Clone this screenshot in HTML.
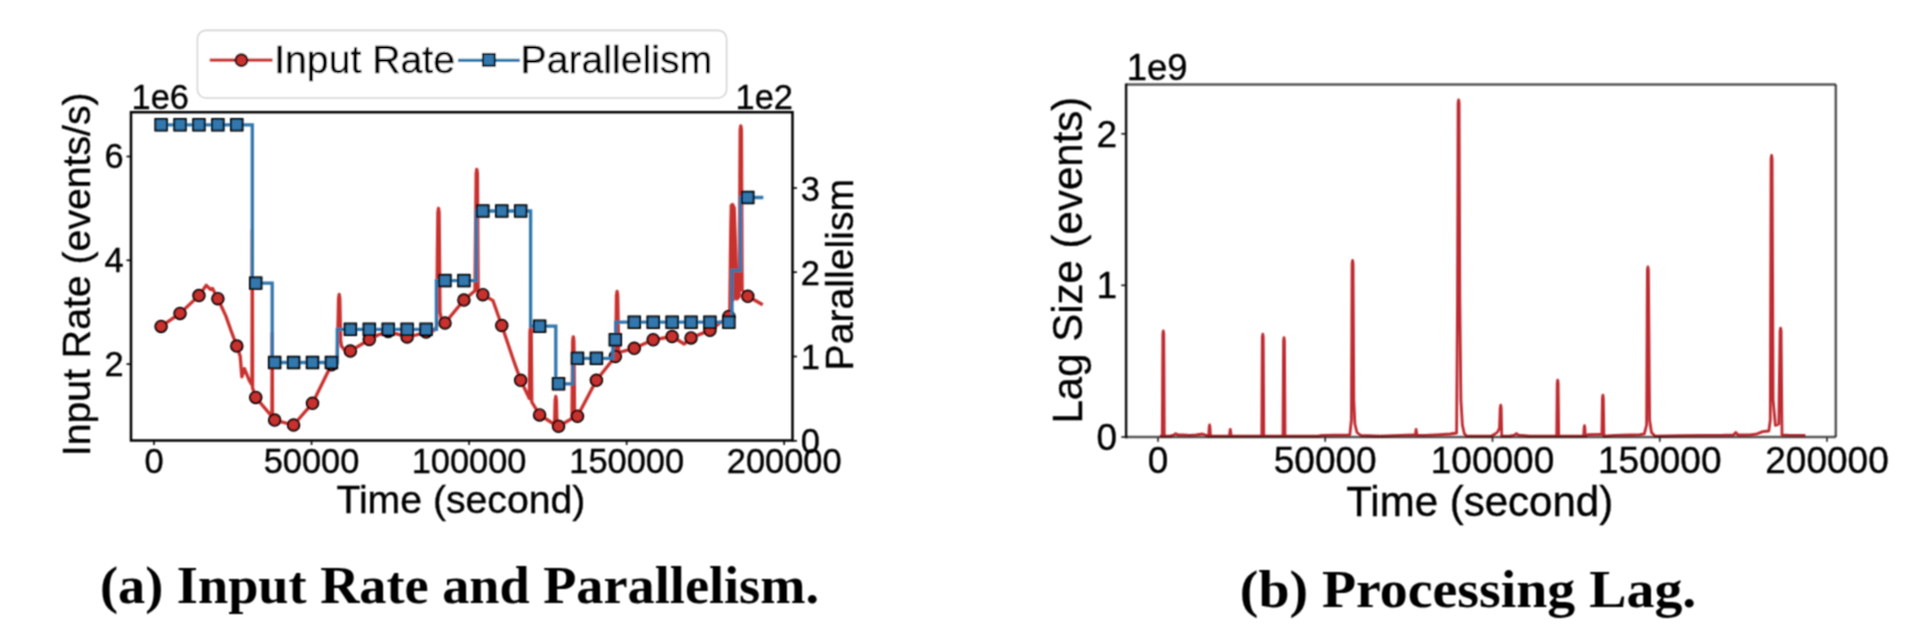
<!DOCTYPE html>
<html><head><meta charset="utf-8"><title>Input Rate, Parallelism and Processing Lag</title>
<style>
html,body{margin:0;padding:0;background:#fff;}
body{width:1916px;height:632px;overflow:hidden;}
svg{display:block;will-change:transform;}
text{font-family:"Liberation Sans",Arial,Helvetica,sans-serif;fill:#000;stroke:#000;stroke-width:0.35px;}
.tl{font-size:34.4px;}
.tr{font-size:37px;}
.lb{font-size:39.2px;}
.lr{font-size:42px;}
.cap{font-family:"Liberation Serif","Times New Roman",serif;font-weight:bold;font-size:53.5px;stroke:none;}
</style></head><body>
<svg width="1916" height="632" viewBox="0 0 1916 632">
<defs><filter id="sb" x="0" y="0" width="1916" height="632" filterUnits="userSpaceOnUse"><feConvolveMatrix order="3" kernelMatrix="1 2 1 2 4 2 1 2 1" divisor="16" edgeMode="duplicate"/></filter></defs>
<rect width="1916" height="632" fill="#fff"/>
<g filter="url(#sb)">
<polyline points="161.1,326.4 180.03,313.4 198.95,295.6 206.3,285.3 210.4,289.4 212.5,288.4 217.88,298.7 225.9,316.1 231,330.5 236.8,346.1 240.2,356.2 241.9,376.8 244.4,368.6 249.5,380.9 252,385 252.3,230 252.6,388 255.73,397.4 271.9,416.5 272.2,333.5 272.5,418 274.66,420.1 293.58,425 312.51,403.3 331.43,364.8 337.3,357 338.6,298.5 339.2,294.5 339.8,298.5 340.6,340 341.5,346 344.5,350 350.36,351 369.29,339.6 378,335 388.21,331.5 395.8,333.7 407.14,337 416,335 426.06,332 433.7,330.6 436.6,327 437.9,212.5 438.5,208.5 439.1,212.5 440,312 441.5,320 444.99,323 463.92,300.1 475,290.7 476.2,173.3 476.8,169.3 477.4,173.3 478.1,291 482.84,294.7 493,300.7 501.77,325.5 513.6,360.5 520.69,380.3 529.4,398.5 530,331.5 530.6,327.5 531.2,331.5 531.8,402 539.62,414.9 554.6,424.5 555.2,400.5 555.8,396.5 556.4,400.5 557,425.6 558.55,426.2 572,418.5 572.7,340.8 573.3,336.8 573.9,340.8 574.6,418 577.47,416.2 596.4,380.3 615.32,356.5 615.7,354 616.5,295.4 617.1,291.4 617.7,295.4 618.6,352.5 634.25,348.3 653.18,339.8 672.1,336.5 684.2,344 691.03,337.9 709.95,330.2 728.88,316.5 729.8,312 730.8,230 731.3,205.5 732.5,204.4 734.2,208 735.3,240 736.8,299 739.2,296.5 740.2,129.8 740.8,125.8 741.4,129.8 742.1,290 747.81,296.3 762.7,304.8" fill="none" stroke="#c8302f" stroke-width="3.3" stroke-linejoin="round" stroke-linecap="butt"/>
<polygon points="730.2,305 730.9,205 733.6,206 735.6,250 737.0,298" fill="#c8302f"/>
<circle cx="161.1" cy="326.4" r="5.8" fill="#c8302f" stroke="#000" stroke-width="1.9"/>
<circle cx="180.03" cy="313.4" r="5.8" fill="#c8302f" stroke="#000" stroke-width="1.9"/>
<circle cx="198.95" cy="295.6" r="5.8" fill="#c8302f" stroke="#000" stroke-width="1.9"/>
<circle cx="217.88" cy="298.7" r="5.8" fill="#c8302f" stroke="#000" stroke-width="1.9"/>
<circle cx="236.8" cy="346.1" r="5.8" fill="#c8302f" stroke="#000" stroke-width="1.9"/>
<circle cx="255.73" cy="397.4" r="5.8" fill="#c8302f" stroke="#000" stroke-width="1.9"/>
<circle cx="274.66" cy="420.1" r="5.8" fill="#c8302f" stroke="#000" stroke-width="1.9"/>
<circle cx="293.58" cy="425" r="5.8" fill="#c8302f" stroke="#000" stroke-width="1.9"/>
<circle cx="312.51" cy="403.3" r="5.8" fill="#c8302f" stroke="#000" stroke-width="1.9"/>
<circle cx="331.43" cy="364.8" r="5.8" fill="#c8302f" stroke="#000" stroke-width="1.9"/>
<circle cx="350.36" cy="351" r="5.8" fill="#c8302f" stroke="#000" stroke-width="1.9"/>
<circle cx="369.29" cy="339.6" r="5.8" fill="#c8302f" stroke="#000" stroke-width="1.9"/>
<circle cx="388.21" cy="331.5" r="5.8" fill="#c8302f" stroke="#000" stroke-width="1.9"/>
<circle cx="407.14" cy="337" r="5.8" fill="#c8302f" stroke="#000" stroke-width="1.9"/>
<circle cx="426.06" cy="332" r="5.8" fill="#c8302f" stroke="#000" stroke-width="1.9"/>
<circle cx="444.99" cy="323" r="5.8" fill="#c8302f" stroke="#000" stroke-width="1.9"/>
<circle cx="463.92" cy="300.1" r="5.8" fill="#c8302f" stroke="#000" stroke-width="1.9"/>
<circle cx="482.84" cy="294.7" r="5.8" fill="#c8302f" stroke="#000" stroke-width="1.9"/>
<circle cx="501.77" cy="325.5" r="5.8" fill="#c8302f" stroke="#000" stroke-width="1.9"/>
<circle cx="520.69" cy="380.3" r="5.8" fill="#c8302f" stroke="#000" stroke-width="1.9"/>
<circle cx="539.62" cy="414.9" r="5.8" fill="#c8302f" stroke="#000" stroke-width="1.9"/>
<circle cx="558.55" cy="426.2" r="5.8" fill="#c8302f" stroke="#000" stroke-width="1.9"/>
<circle cx="577.47" cy="416.2" r="5.8" fill="#c8302f" stroke="#000" stroke-width="1.9"/>
<circle cx="596.4" cy="380.3" r="5.8" fill="#c8302f" stroke="#000" stroke-width="1.9"/>
<circle cx="615.32" cy="356.5" r="5.8" fill="#c8302f" stroke="#000" stroke-width="1.9"/>
<circle cx="634.25" cy="348.3" r="5.8" fill="#c8302f" stroke="#000" stroke-width="1.9"/>
<circle cx="653.18" cy="339.8" r="5.8" fill="#c8302f" stroke="#000" stroke-width="1.9"/>
<circle cx="672.1" cy="336.5" r="5.8" fill="#c8302f" stroke="#000" stroke-width="1.9"/>
<circle cx="691.03" cy="337.9" r="5.8" fill="#c8302f" stroke="#000" stroke-width="1.9"/>
<circle cx="709.95" cy="330.2" r="5.8" fill="#c8302f" stroke="#000" stroke-width="1.9"/>
<circle cx="728.88" cy="316.5" r="5.8" fill="#c8302f" stroke="#000" stroke-width="1.9"/>
<circle cx="747.81" cy="296.3" r="5.8" fill="#c8302f" stroke="#000" stroke-width="1.9"/>
<polyline points="161.1,124.8 252.3,124.8 252.3,283.1 272.2,283.1 272.2,362.5 337.3,362.5 337.3,329.3 436.4,329.3 436.4,280.6 476.3,280.6 476.3,211 530.6,211 530.6,326.2 555.8,326.2 555.8,383.8 572.9,383.8 572.9,358.3 612.9,358.3 612.9,339.8 615.8,339.8 615.8,322.2 732,322.2 732,270.5 740.5,270.5 740.5,197.5 763.3,197.5" fill="none" stroke="#3077ad" stroke-width="3.3" stroke-linejoin="miter" stroke-linecap="butt"/>
<rect x="155.3" y="119" width="11.6" height="11.6" fill="#3077ad" stroke="#000" stroke-width="1.9"/>
<rect x="174.23" y="119" width="11.6" height="11.6" fill="#3077ad" stroke="#000" stroke-width="1.9"/>
<rect x="193.15" y="119" width="11.6" height="11.6" fill="#3077ad" stroke="#000" stroke-width="1.9"/>
<rect x="212.08" y="119" width="11.6" height="11.6" fill="#3077ad" stroke="#000" stroke-width="1.9"/>
<rect x="231" y="119" width="11.6" height="11.6" fill="#3077ad" stroke="#000" stroke-width="1.9"/>
<rect x="249.93" y="277.3" width="11.6" height="11.6" fill="#3077ad" stroke="#000" stroke-width="1.9"/>
<rect x="268.86" y="356.7" width="11.6" height="11.6" fill="#3077ad" stroke="#000" stroke-width="1.9"/>
<rect x="287.78" y="356.7" width="11.6" height="11.6" fill="#3077ad" stroke="#000" stroke-width="1.9"/>
<rect x="306.71" y="356.7" width="11.6" height="11.6" fill="#3077ad" stroke="#000" stroke-width="1.9"/>
<rect x="325.63" y="356.7" width="11.6" height="11.6" fill="#3077ad" stroke="#000" stroke-width="1.9"/>
<rect x="344.56" y="323.5" width="11.6" height="11.6" fill="#3077ad" stroke="#000" stroke-width="1.9"/>
<rect x="363.49" y="323.5" width="11.6" height="11.6" fill="#3077ad" stroke="#000" stroke-width="1.9"/>
<rect x="382.41" y="323.5" width="11.6" height="11.6" fill="#3077ad" stroke="#000" stroke-width="1.9"/>
<rect x="401.34" y="323.5" width="11.6" height="11.6" fill="#3077ad" stroke="#000" stroke-width="1.9"/>
<rect x="420.26" y="323.5" width="11.6" height="11.6" fill="#3077ad" stroke="#000" stroke-width="1.9"/>
<rect x="439.19" y="274.8" width="11.6" height="11.6" fill="#3077ad" stroke="#000" stroke-width="1.9"/>
<rect x="458.12" y="274.8" width="11.6" height="11.6" fill="#3077ad" stroke="#000" stroke-width="1.9"/>
<rect x="477.04" y="205.2" width="11.6" height="11.6" fill="#3077ad" stroke="#000" stroke-width="1.9"/>
<rect x="495.97" y="205.2" width="11.6" height="11.6" fill="#3077ad" stroke="#000" stroke-width="1.9"/>
<rect x="514.89" y="205.2" width="11.6" height="11.6" fill="#3077ad" stroke="#000" stroke-width="1.9"/>
<rect x="533.82" y="320.4" width="11.6" height="11.6" fill="#3077ad" stroke="#000" stroke-width="1.9"/>
<rect x="552.75" y="378" width="11.6" height="11.6" fill="#3077ad" stroke="#000" stroke-width="1.9"/>
<rect x="571.67" y="352.5" width="11.6" height="11.6" fill="#3077ad" stroke="#000" stroke-width="1.9"/>
<rect x="590.6" y="352.5" width="11.6" height="11.6" fill="#3077ad" stroke="#000" stroke-width="1.9"/>
<rect x="609.52" y="334" width="11.6" height="11.6" fill="#3077ad" stroke="#000" stroke-width="1.9"/>
<rect x="628.45" y="316.4" width="11.6" height="11.6" fill="#3077ad" stroke="#000" stroke-width="1.9"/>
<rect x="647.38" y="316.4" width="11.6" height="11.6" fill="#3077ad" stroke="#000" stroke-width="1.9"/>
<rect x="666.3" y="316.4" width="11.6" height="11.6" fill="#3077ad" stroke="#000" stroke-width="1.9"/>
<rect x="685.23" y="316.4" width="11.6" height="11.6" fill="#3077ad" stroke="#000" stroke-width="1.9"/>
<rect x="704.15" y="316.4" width="11.6" height="11.6" fill="#3077ad" stroke="#000" stroke-width="1.9"/>
<rect x="723.08" y="316.4" width="11.6" height="11.6" fill="#3077ad" stroke="#000" stroke-width="1.9"/>
<rect x="742.01" y="191.7" width="11.6" height="11.6" fill="#3077ad" stroke="#000" stroke-width="1.9"/>
<rect x="131" y="112.2" width="661.5" height="328.3" fill="none" stroke="#000" stroke-width="2.5"/>
<line x1="154" y1="440.5" x2="154" y2="445" stroke="#000" stroke-width="1.6"/>
<text x="154" y="473" class="tl" text-anchor="middle">0</text>
<line x1="311.55" y1="440.5" x2="311.55" y2="445" stroke="#000" stroke-width="1.6"/>
<text x="311.55" y="473" class="tl" text-anchor="middle">50000</text>
<line x1="469.1" y1="440.5" x2="469.1" y2="445" stroke="#000" stroke-width="1.6"/>
<text x="469.1" y="473" class="tl" text-anchor="middle">100000</text>
<line x1="626.65" y1="440.5" x2="626.65" y2="445" stroke="#000" stroke-width="1.6"/>
<text x="626.65" y="473" class="tl" text-anchor="middle">150000</text>
<line x1="784.2" y1="440.5" x2="784.2" y2="445" stroke="#000" stroke-width="1.6"/>
<text x="784.2" y="473" class="tl" text-anchor="middle">200000</text>
<line x1="126.5" y1="364.1" x2="131" y2="364.1" stroke="#000" stroke-width="1.6"/>
<text x="123.7" y="375.95" class="tl" text-anchor="end">2</text>
<line x1="126.5" y1="260.3" x2="131" y2="260.3" stroke="#000" stroke-width="1.6"/>
<text x="123.7" y="272.15" class="tl" text-anchor="end">4</text>
<line x1="126.5" y1="156.5" x2="131" y2="156.5" stroke="#000" stroke-width="1.6"/>
<text x="123.7" y="168.35" class="tl" text-anchor="end">6</text>
<line x1="792.5" y1="440.8" x2="797" y2="440.8" stroke="#000" stroke-width="1.6"/>
<text x="800.8" y="453.45" class="tl">0</text>
<line x1="792.5" y1="356.5" x2="797" y2="356.5" stroke="#000" stroke-width="1.6"/>
<text x="800.8" y="369.15" class="tl">1</text>
<line x1="792.5" y1="272.2" x2="797" y2="272.2" stroke="#000" stroke-width="1.6"/>
<text x="800.8" y="284.85" class="tl">2</text>
<line x1="792.5" y1="188" x2="797" y2="188" stroke="#000" stroke-width="1.6"/>
<text x="800.8" y="200.65" class="tl">3</text>
<text x="131.6" y="108.7" class="tl">1e6</text>
<text x="793" y="108.8" class="tl" text-anchor="end">1e2</text>
<text x="460.9" y="513" class="lb" text-anchor="middle">Time (second)</text>
<text transform="translate(89.8,274.3) rotate(-90)" class="lb" text-anchor="middle" x="0" y="0">Input Rate (events/s)</text>
<text transform="translate(853,274.6) rotate(-90)" class="lb" text-anchor="middle" x="0" y="0">Parallelism</text>
<rect x="197.4" y="30.4" width="529.2" height="67.6" rx="8.5" ry="8.5" fill="#fff" fill-opacity="0.8" stroke="#d4d4d4" stroke-width="1.6"/>
<line x1="209.7" y1="60.2" x2="272.5" y2="60.2" stroke="#c8302f" stroke-width="3.3"/>
<circle cx="241.4" cy="60.2" r="6.0" fill="#c8302f" stroke="#000" stroke-width="1.9"/>
<text x="274.2" y="73" class="lb">Input Rate</text>
<line x1="458" y1="60.3" x2="519.8" y2="60.3" stroke="#3077ad" stroke-width="3.3"/>
<rect x="482.9" y="53.9" width="11.9" height="11.9" fill="#3077ad" stroke="#000" stroke-width="1.9"/>
<text x="520.6" y="72.5" class="lb">Parallelism</text>
<polyline points="1159.8,436.2 1162.3,436.2 1162.85,334 1163.3,331 1163.75,334 1164.3,436.2 1170,436.2 1173.5,435.2 1175.8,433.6 1178,435 1183,435 1190,435.3 1196,434.9 1202.5,434 1205.5,435 1207.8,436.2 1208.7,436.2 1209.15,428 1209.6,425 1210.05,428 1210.5,436.2 1214,436.2 1228.5,436.2 1229.4,436.2 1229.85,432.3 1230.3,429.3 1230.75,432.3 1231.2,436.2 1240,436.2 1260.8,436.2 1261.8,436.2 1262.35,337.1 1262.8,334.1 1263.25,337.1 1263.8,436.2 1272,436.2 1282,436.2 1283,436.2 1283.55,340.6 1284,337.6 1284.45,340.6 1285,436.2 1300,436.2 1318,436.2 1322,435.4 1335,435.1 1349.8,434.8 1351.4,420 1352.1,263.5 1352.6,260.4 1353.1,264 1353.8,400 1354.9,424 1357,432.5 1361,435.5 1380,436.2 1400,435.4 1413.8,435 1415.2,435 1415.65,432.5 1416.1,429.5 1416.55,432.5 1417,435.4 1425,435.3 1440,434.6 1450,434 1456.6,433 1457.5,300 1458.1,103 1458.6,99.9 1459.1,103 1459.8,300 1460.9,400 1462.4,425 1464.3,433.5 1466.5,436.2 1480,436.2 1491,436.2 1495,434 1497.6,432 1499.5,428 1500.2,408 1500.7,405.2 1501.2,408 1501.7,436.2 1510,436.2 1514.5,435 1516.4,433.5 1518.5,435.2 1530,436.2 1556,436.2 1556.7,436.2 1557.25,383.2 1557.7,380.2 1558.15,383.2 1558.7,436.2 1570,436.2 1583.4,436.2 1583.7,436.2 1584.05,428.7 1584.5,425.7 1584.95,428.7 1585.3,436.2 1588,434.6 1600.5,434.4 1601.9,434.4 1602.45,398.2 1602.9,395.2 1603.35,398.2 1603.9,436.2 1615,435.4 1630,435 1640,434.6 1644.3,433.8 1646.6,425 1647.4,270 1647.9,267 1648.4,270 1649.6,420 1651.5,432.5 1655.2,436.2 1680,435.6 1700,435.4 1720,435.3 1733.5,435 1735.8,432.5 1738,435 1750,434.8 1756,434.2 1762.7,431.6 1768.8,431 1770.3,420 1771.1,159 1771.6,155.5 1772.1,159 1773.1,400 1775.4,425.4 1778.8,424 1780.1,331 1780.6,328.2 1781.1,331 1782,435 1790,435.3 1805.4,435.4" fill="none" stroke="#bd2c30" stroke-width="2.8" stroke-linejoin="round"/>
<line x1="1126.1" y1="84.6" x2="1835.8" y2="84.6" stroke="#000" stroke-opacity="0.66" stroke-width="2.5"/>
<line x1="1835.8" y1="84.6" x2="1835.8" y2="437" stroke="#000" stroke-opacity="0.66" stroke-width="2.5"/>
<line x1="1126.1" y1="437" x2="1835.8" y2="437" stroke="#000" stroke-opacity="0.66" stroke-width="2.5"/>
<line x1="1126.1" y1="83.4" x2="1126.1" y2="438.2" stroke="#111" stroke-width="2.4"/>
<line x1="1158" y1="437" x2="1158" y2="441.8" stroke="#222" stroke-width="1.6"/>
<text x="1158" y="473.3" class="tr" text-anchor="middle">0</text>
<line x1="1325.25" y1="437" x2="1325.25" y2="441.8" stroke="#222" stroke-width="1.6"/>
<text x="1325.25" y="473.3" class="tr" text-anchor="middle">50000</text>
<line x1="1492.5" y1="437" x2="1492.5" y2="441.8" stroke="#222" stroke-width="1.6"/>
<text x="1492.5" y="473.3" class="tr" text-anchor="middle">100000</text>
<line x1="1659.75" y1="437" x2="1659.75" y2="441.8" stroke="#222" stroke-width="1.6"/>
<text x="1659.75" y="473.3" class="tr" text-anchor="middle">150000</text>
<line x1="1827" y1="437" x2="1827" y2="441.8" stroke="#222" stroke-width="1.6"/>
<text x="1827" y="473.3" class="tr" text-anchor="middle">200000</text>
<line x1="1121.3" y1="437" x2="1126.1" y2="437" stroke="#111" stroke-width="1.6"/>
<text x="1117" y="449.75" class="tr" text-anchor="end">0</text>
<line x1="1121.3" y1="285.3" x2="1126.1" y2="285.3" stroke="#111" stroke-width="1.6"/>
<text x="1117" y="298.05" class="tr" text-anchor="end">1</text>
<line x1="1121.3" y1="133.8" x2="1126.1" y2="133.8" stroke="#111" stroke-width="1.6"/>
<text x="1117" y="146.55" class="tr" text-anchor="end">2</text>
<text x="1126.8" y="79.8" class="tr" style="font-size:36.4px">1e9</text>
<text x="1479.7" y="515.7" class="lr" text-anchor="middle">Time (second)</text>
<text transform="translate(1082,260.1) rotate(-90)" class="lr" text-anchor="middle" x="0" y="0">Lag Size (events)</text>
<text x="100" y="603.2" class="cap" textLength="719" lengthAdjust="spacingAndGlyphs">(a) Input Rate and Parallelism.</text>
<text x="1239.8" y="606.7" class="cap" style="font-size:53.8px" textLength="456.5" lengthAdjust="spacingAndGlyphs">(b) Processing Lag.</text>
</g>
</svg>
</body></html>
